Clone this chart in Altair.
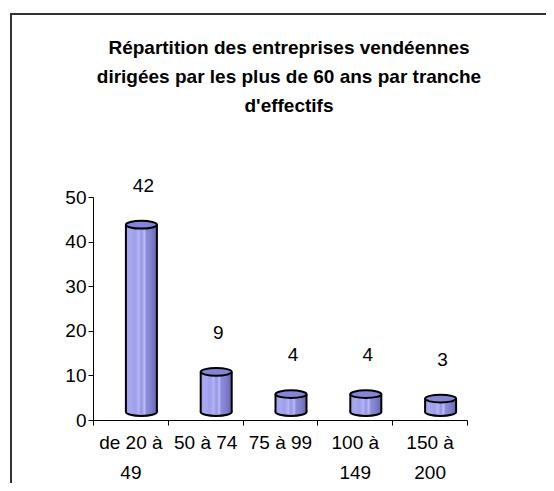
import altair as alt
import pandas as pd

categories = ["de 20 à 49", "50 à 74", "75 à 99", "100 à 149", "150 à 200"]
values = [42, 9, 4, 4, 3]
title_lines = [
    "Répartition des entreprises vendéennes",
    "dirigées par les plus de 60 ans par tranche",
    "d'effectifs",
]
y_ticks = [0, 10, 20, 30, 40, 50]

df = pd.DataFrame({"cat": categories, "v": values})

FONT = "Liberation Sans"
BAR_W = 31
DX = 11
DY = -8
ELLIPSE = "M -1 0 A 1 0.25 0 1 1 1 0 A 1 0.25 0 1 1 -1 0 Z"

body_grad = alt.Gradient(
    gradient="linear",
    x1=0, x2=1, y1=0, y2=0,
    stops=[
        alt.GradientStop(offset=0.0, color="#9c9ce8"),
        alt.GradientStop(offset=0.12, color="#a9a9f2"),
        alt.GradientStop(offset=0.3, color="#9e9eec"),
        alt.GradientStop(offset=0.42, color="#b4b4f6"),
        alt.GradientStop(offset=0.5, color="#9494e2"),
        alt.GradientStop(offset=0.6, color="#babaf6"),
        alt.GradientStop(offset=0.66, color="#8c8cdc"),
        alt.GradientStop(offset=0.82, color="#7f7fcc"),
        alt.GradientStop(offset=1.0, color="#6464b0"),
    ],
)

x_enc = alt.X(
    "cat:N",
    sort=categories,
    scale=alt.Scale(paddingInner=0, paddingOuter=0),
    axis=alt.Axis(
        title=None,
        labelAngle=0,
        tickBand="extent",
        tickSize=5,
        tickColor="black",
        domainColor="black",
        labelColor="black",
        labelFont=FONT,
        labelFontSize=19,
        labelLineHeight=30,
        labelPadding=8,
        labelBaseline="top",
        labelExpr="length(datum.label) > 7 ? [substring(datum.label, 0, lastindexof(datum.label, ' ')), substring(datum.label, lastindexof(datum.label, ' ') + 1)] : datum.label",
    ),
)
y_scale = alt.Scale(domain=[0, 50], nice=False)
y_enc = alt.Y(
    "v:Q",
    scale=y_scale,
    axis=alt.Axis(
        title=None,
        values=y_ticks,
        grid=False,
        tickSize=5,
        tickColor="black",
        domainColor="black",
        labelColor="black",
        labelFont=FONT,
        labelFontSize=19,
        labelPadding=2,
    ),
)

base = alt.Chart(df).encode(x=x_enc)

bottom = base.mark_point(
    shape=ELLIPSE, size=BAR_W * BAR_W, filled=True, fill=body_grad,
    stroke="black", strokeWidth=2, opacity=1, xOffset=DX, yOffset=DY,
).encode(y=alt.datum(0))

body = base.mark_bar(
    width=BAR_W, fill=body_grad, xOffset=DX, x2Offset=DX,
    yOffset=DY, y2Offset=DY,
).encode(y=y_enc)

left_side = base.mark_rule(
    color="black", strokeWidth=2, xOffset=DX - BAR_W / 2,
    yOffset=DY, y2Offset=DY,
).encode(y="v:Q", y2=alt.datum(0))

right_side = base.mark_rule(
    color="black", strokeWidth=2, xOffset=DX + BAR_W / 2,
    yOffset=DY, y2Offset=DY,
).encode(y="v:Q", y2=alt.datum(0))

top = base.mark_point(
    shape=ELLIPSE, size=BAR_W * BAR_W, filled=True, fill="#8585d6",
    stroke="black", strokeWidth=2, opacity=1, xOffset=DX, yOffset=DY,
).encode(y="v:Q")

labels = base.mark_text(
    font=FONT, fontSize=19, color="black", baseline="middle",
    xOffset=13, yOffset=DY - 39,
).encode(y="v:Q", text="v:Q")

frame = alt.Chart(pd.DataFrame({"a": [0]})).mark_rect(
    fill="transparent", stroke="#333333", strokeWidth=2,
).encode(
    x=alt.value(-82), y=alt.value(-183), x2=alt.value(900), y2=alt.value(900)
)

chart = alt.layer(frame, bottom, body, left_side, right_side, top, labels).properties(
    width=374,
    height=223,
    background="white",
    autosize=alt.AutoSizeParams(type="none"),
    padding={"top": 189, "left": 85, "right": 79, "bottom": 63},
    title=alt.TitleParams(
        text=title_lines,
        font=FONT,
        fontSize=19,
        fontWeight="bold",
        color="black",
        lineHeight=29,
        anchor="middle",
        frame="group",
        dx=9,
        offset=-103,
    ),
).configure_view(stroke=None)

chart.save("out.html", embed_options={"renderer": "svg", "actions": False})
